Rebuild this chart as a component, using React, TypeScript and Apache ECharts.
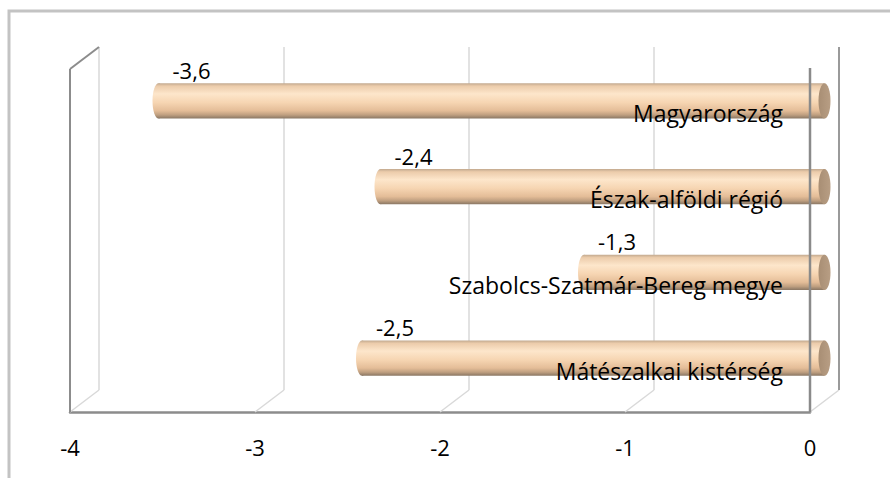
import React, { useEffect, useRef } from 'react';
import * as echarts from 'echarts';

const categories = ['Magyarország', 'Észak-alföldi régió', 'Szabolcs-Szatmár-Bereg megye', 'Mátészalkai kistérség'];
const values = [-3.6, -2.4, -1.3, -2.5];
const xTicks = [-4, -3, -2, -1, 0];

const DEPTH_X = 29;
const DEPTH_Y = -22;
const FONT = '"Open Sans", "Noto Sans", sans-serif';

const fmt = (v: number) => String(v).replace('.', ',');

export default function App() {
  const ref = useRef<HTMLDivElement>(null);
  useEffect(() => {
    document.body.style.margin = '0';
    const chart = echarts.init(ref.current!, null, { renderer: 'svg' });
    const xMin = xTicks[0];
    const xMax = xTicks[xTicks.length - 1];
    const interval = xTicks[1] - xTicks[0];
    const box = { width: 740, height: 343 };
    const front = { left: 70, top: 69 };
    const grids = [0, 0.5, 1].map((f) => ({
      left: front.left + DEPTH_X * f,
      top: front.top + DEPTH_Y * f,
      ...box,
    }));

    const barGrad = () =>
      new echarts.graphic.LinearGradient(0, 0, 0, 1, [
        { offset: 0, color: '#c2a98f' },
        { offset: 0.08, color: '#ecccab' },
        { offset: 0.3, color: '#fde6cb' },
        { offset: 0.55, color: '#f6d5b2' },
        { offset: 0.78, color: '#e4bd98' },
        { offset: 0.9, color: '#bf9f80' },
        { offset: 1, color: '#8a7764' },
      ]);

    const option: any = {
      animation: false,
      graphic: [
        {
          type: 'rect',
          shape: { x: 9, y: 11, width: 900, height: 500 },
          style: { fill: 'none', stroke: '#c3c3c3', lineWidth: 3 },
          silent: true,
        },
      ],
      grid: grids,
      xAxis: [
        {
          gridIndex: 0,
          type: 'value',
          min: xMin,
          max: xMax,
          interval,
          axisLine: { show: true, lineStyle: { color: '#8c8c8c', width: 2.5 } },
          axisTick: { show: false },
          splitLine: { show: false },
          axisLabel: {
            fontSize: 22,
            fontFamily: FONT,
            color: '#000',
            margin: 24,
            formatter: (v: number) => fmt(v),
          },
        },
        { gridIndex: 1, type: 'value', min: xMin, max: xMax, interval, show: false },
        {
          gridIndex: 2,
          type: 'value',
          min: xMin,
          max: xMax,
          interval,
          axisLine: { show: false },
          axisTick: { show: false },
          axisLabel: { show: false },
          splitLine: { show: true, lineStyle: { color: '#d9d9d9', width: 1.5 } },
        },
      ],
      yAxis: [0, 1, 2].map((g) => ({
        gridIndex: g,
        type: 'category',
        data: categories,
        inverse: true,
        show: false,
      })),
      series: [
        {
          type: 'custom',
          name: 'floor',
          xAxisIndex: 0,
          yAxisIndex: 0,
          z: 1,
          silent: true,
          encode: { x: 0, y: 1 },
          data: xTicks.map((v) => [v, 0]),
          renderItem: (params: any, api: any) => {
            const cs = params.coordSys;
            const p = api.coord([api.value(0), 0]);
            const bottom = cs.y + cs.height;
            return {
              type: 'line',
              shape: { x1: p[0], y1: bottom, x2: p[0] + DEPTH_X, y2: bottom + DEPTH_Y },
              style: { stroke: '#d9d9d9', lineWidth: 1.5 },
            };
          },
        },
        {
          type: 'custom',
          name: 'bars',
          xAxisIndex: 1,
          yAxisIndex: 1,
          z: 2,
          encode: { x: 0, y: 1 },
          data: values.map((v, i) => [v, i]),
          renderItem: (params: any, api: any) => {
            const idx = api.value(1);
            const s = api.coord([api.value(0), idx]);
            const e = api.coord([0, idx]);
            const h = api.size([0, 1])[1] * 0.41;
            const cy = s[1];
            const rx = 6;
            return {
              type: 'group',
              children: [
                {
                  type: 'ellipse',
                  shape: { cx: s[0], cy, rx, ry: h / 2 },
                  style: { fill: barGrad() },
                },
                {
                  type: 'rect',
                  shape: { x: s[0], y: cy - h / 2, width: e[0] - s[0], height: h },
                  style: { fill: barGrad() },
                },
                {
                  type: 'ellipse',
                  shape: { cx: e[0], cy, rx, ry: h / 2 },
                  style: {
                    fill: new echarts.graphic.LinearGradient(0, 0, 1, 0, [
                      { offset: 0, color: '#a88e74' },
                      { offset: 1, color: '#b89e84' },
                    ]),
                  },
                },
                {
                  type: 'text',
                  x: s[0] + 33,
                  y: cy - 31,
                  style: {
                    text: fmt(values[idx]),
                    fill: '#000',
                    fontSize: 22,
                    fontFamily: FONT,
                    align: 'center',
                    verticalAlign: 'middle',
                  },
                },
                {
                  type: 'text',
                  x: e[0] - 41.5,
                  y: cy + 12.5,
                  style: {
                    text: categories[idx],
                    fill: '#000',
                    fontSize: 23,
                    fontFamily: FONT,
                    align: 'right',
                    verticalAlign: 'middle',
                  },
                },
              ],
            };
          },
        },
        {
          type: 'custom',
          name: 'walls',
          xAxisIndex: 0,
          yAxisIndex: 0,
          z: 3,
          silent: true,
          encode: { x: 0, y: 1 },
          data: [[xMin, 0]],
          renderItem: (params: any, api: any) => {
            const cs = params.coordSys;
            const xl = api.coord([xMin, 0])[0];
            const xr = api.coord([xMax, 0])[0];
            const top = cs.y;
            const bottom = cs.y + cs.height;
            const dark = { stroke: '#8c8c8c', lineWidth: 2 };
            return {
              type: 'group',
              children: [
                { type: 'line', shape: { x1: xl, y1: top, x2: xl, y2: bottom }, style: dark },
                { type: 'line', shape: { x1: xl, y1: top, x2: xl + DEPTH_X, y2: top + DEPTH_Y }, style: dark },
                { type: 'line', shape: { x1: xr, y1: top - 1, x2: xr, y2: bottom }, style: { stroke: '#8a8a8a', lineWidth: 2.5 } },
                {
                  type: 'line',
                  shape: { x1: xr + DEPTH_X, y1: top + DEPTH_Y, x2: xr + DEPTH_X, y2: bottom + DEPTH_Y },
                  style: { stroke: '#9a9a9a', lineWidth: 2 },
                },
              ],
            };
          },
        },
      ],
    };
    chart.setOption(option);
    return () => chart.dispose();
  }, []);
  return <div ref={ref} style={{ width: 890, height: 478 }} />;
}
